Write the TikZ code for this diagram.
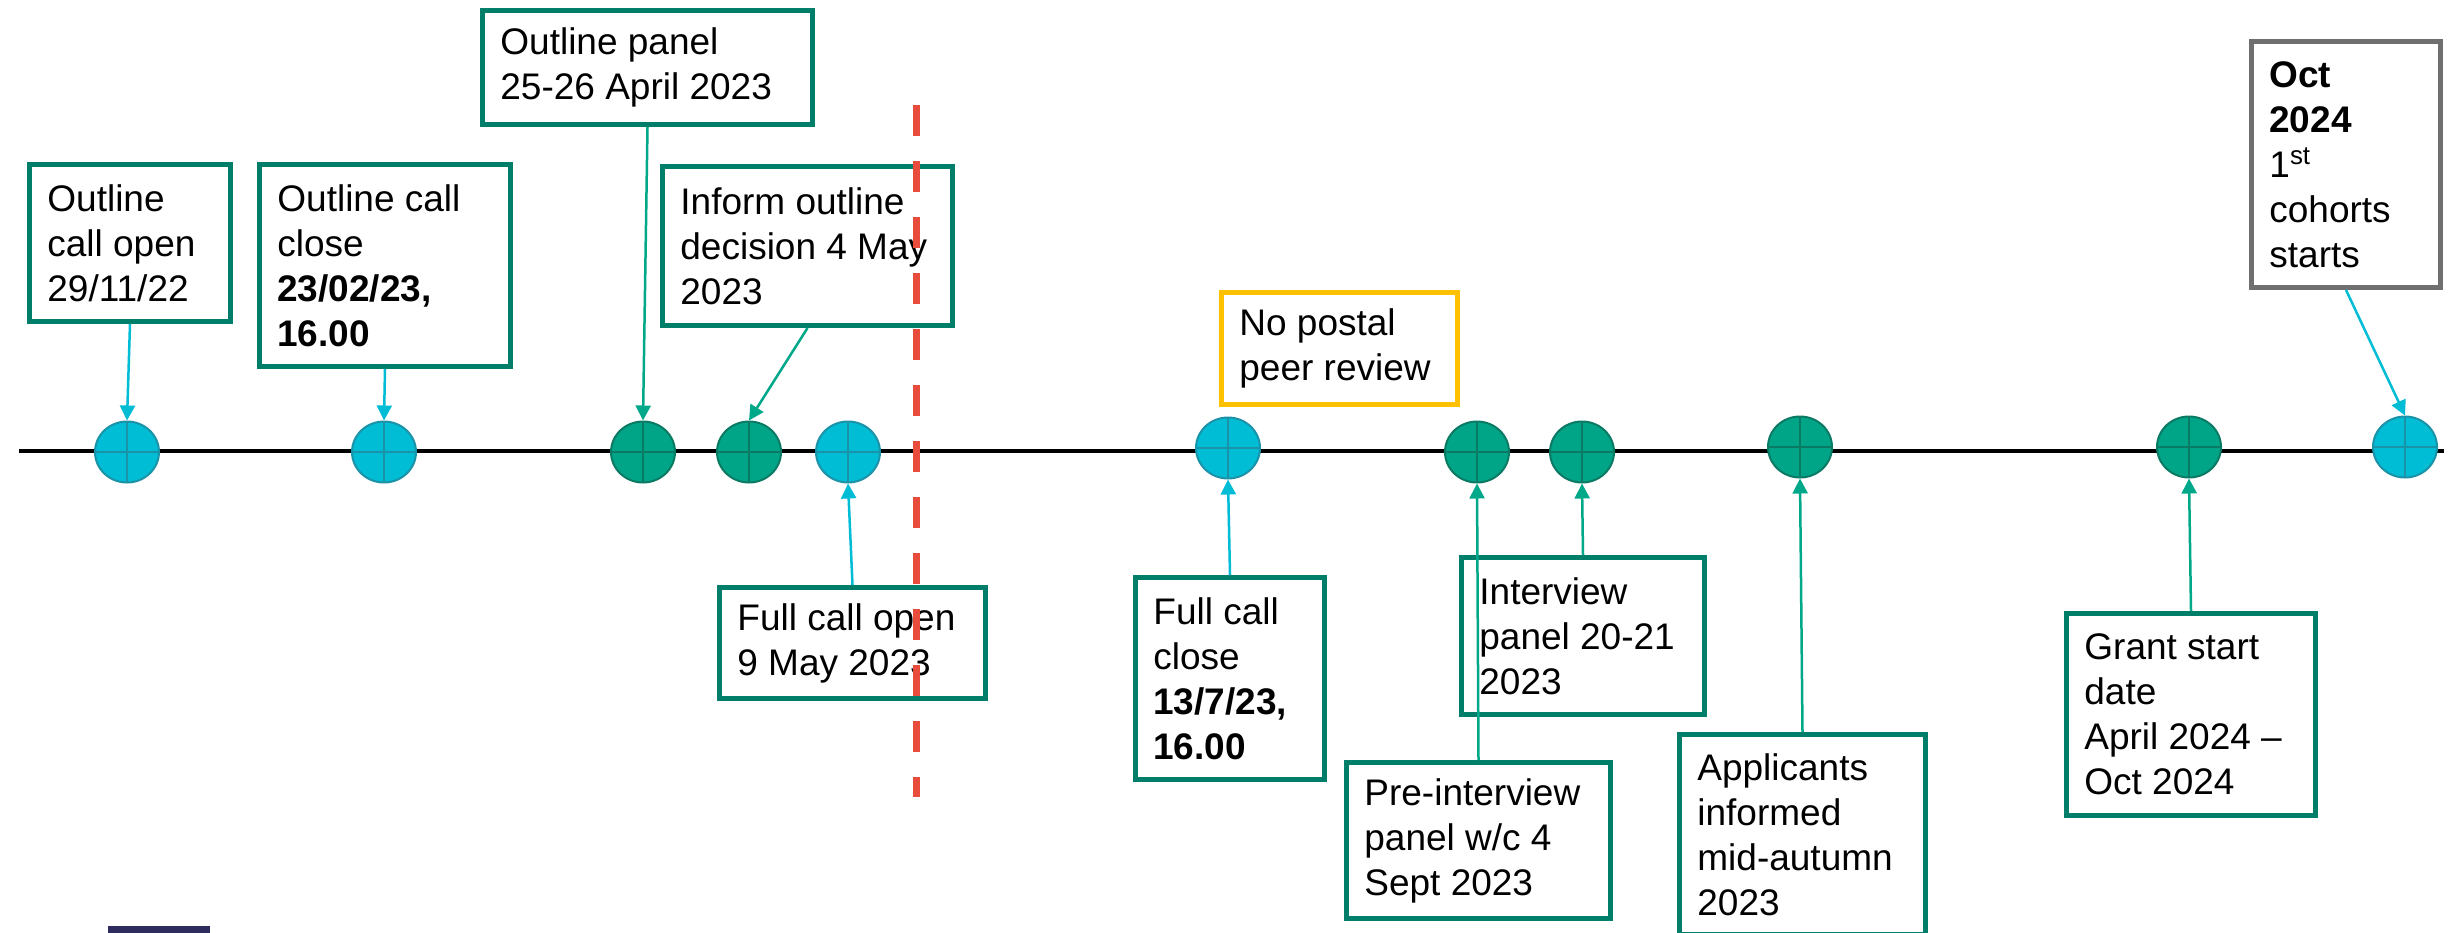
\documentclass[tikz,border=0pt]{standalone}
\usepackage{fontspec}
\setmainfont{Liberation Sans}
\usetikzlibrary{shapes.geometric,arrows.meta}
\definecolor{cfill}{HTML}{00BDD6}
\definecolor{cline}{HTML}{1A93A8}
\definecolor{gfill}{HTML}{00A587}
\definecolor{gline}{HTML}{0B7A64}
\definecolor{boxc}{HTML}{007E69}
\definecolor{carr}{HTML}{00BCD4}
\definecolor{garr}{HTML}{00A88A}
\definecolor{redd}{HTML}{E84C3D}
\definecolor{yel}{HTML}{FFC000}
\definecolor{gry}{HTML}{6F6F6F}
\definecolor{navy}{HTML}{2E2B5F}
\begin{document}
\begin{tikzpicture}[x=0.5pt,y=-0.5pt,
  cross/.style={path picture={\draw[#1,line width=1.4pt] (path picture bounding box.north) -- (path picture bounding box.south) (path picture bounding box.west) -- (path picture bounding box.east);}},
  ev/.style={ellipse, line width=1pt, minimum width=32pt, minimum height=30.5pt, inner sep=0pt},
  cev/.style={ev, draw=cline, fill=cfill, cross=cline},
  gev/.style={ev, draw=gline, fill=gfill, cross=gline},
  box/.style={rectangle, draw=#1, line width=2.5pt, fill=white, anchor=north west, inner sep=0pt},
  box/.default=boxc,
  txt/.style={font=\fontsize{18.5}{22.5}\selectfont, align=left, inner sep=0pt, anchor=west},
  arr/.style={draw=#1, line width=1.25pt, -{Triangle[width=7.5pt,length=7.5pt]}},
  timeline/.style={line width=1.75pt, black},
  reddash/.style={draw=redd, line width=3.5pt, dash pattern=on 15.5pt off 12.5pt}
]
\useasboundingbox (0,0) rectangle (2458,932);
% timeline
\coordinate (tlA) at (19,451);
\coordinate (tlB) at (2444,451);
\draw[timeline] (tlA) -- (tlB);
% events
\node[cev] (c1) at (127,452) {};
\node[cev] (c2) at (384,452) {};
\node[gev] (c3) at (643,452) {};
\node[gev] (c4) at (749,452) {};
\node[cev] (c5) at (848,452) {};
\node[cev] (c6) at (1228,448) {};
\node[gev] (c7) at (1477,452) {};
\node[gev] (c8) at (1582,452) {};
\node[gev] (c9) at (1800,447) {};
\node[gev] (c10) at (2189,447) {};
\node[cev] (c11) at (2405,447) {};
% boxes
\node[box, minimum width=100.5pt, minimum height=78.5pt] (b1) at (27,162) {};
\node[txt] (t1) at ([xshift=10pt]b1.west) {Outline\\call open\\29/11/22};
\node[box, minimum width=125.5pt, minimum height=101pt] (b2) at (257,162) {};
\node[txt] (t2) at ([xshift=10pt]b2.west) {Outline call\\close\\\textbf{23/02/23,}\\\textbf{16.00}};
\node[box, minimum width=165pt, minimum height=57pt] (b3) at (480,8) {};
\node[txt] (t3) at ([xshift=10pt]b3.west) {Outline panel\\25-26 April 2023};
\node[box, minimum width=145pt, minimum height=79.5pt] (b4) at (660,164) {};
\node[txt] (t4) at ([xshift=10pt]b4.west) {Inform outline\\decision 4 May\\2023};
\node[box, minimum width=133pt, minimum height=55.5pt] (b5) at (717,585) {};
\node[txt] (t5) at ([xshift=10pt]b5.west) {Full call open\\9 May 2023};
\node[box=yel, minimum width=118pt, minimum height=56pt] (b6) at (1219,290) {};
\node[txt] (t6) at ([xshift=10pt]b6.west) {No postal\\peer review};
\node[box, minimum width=94.5pt, minimum height=101pt] (b7) at (1133,575) {};
\node[txt] (t7) at ([xshift=10pt]b7.west) {Full call\\close\\\textbf{13/7/23,}\\\textbf{16.00}};
\node[box, minimum width=121.5pt, minimum height=78.5pt] (b8) at (1459,555) {};
\node[txt] (t8) at ([xshift=10pt]b8.west) {Interview\\panel 20-21\\2023};
\node[box, minimum width=132pt, minimum height=78pt] (b9) at (1344,760) {};
\node[txt] (t9) at ([xshift=10pt]b9.west) {Pre-interview\\panel w/c 4\\Sept 2023};
\node[box, minimum width=123pt, minimum height=100pt] (b10) at (1677,732) {};
\node[txt] (t10) at ([xshift=10pt]b10.west) {Applicants\\informed\\mid-autumn\\2023};
\node[box, minimum width=124.5pt, minimum height=101pt] (b11) at (2064,611) {};
\node[txt] (t11) at ([xshift=10pt]b11.west) {Grant start\\date\\April 2024 –\\Oct 2024};
\node[box=gry, minimum width=94.5pt, minimum height=123pt] (b12) at (2249,39) {};
\node[txt] (t12) at ([xshift=10pt]b12.west) {\textbf{Oct}\\\textbf{2024}\\1\smash{\textsuperscript{st}}\\cohorts\\starts};
% connectors
\draw[arr=carr] (b1.south) -- (c1.north);
\draw[arr=carr] (b2.south) -- (c2.north);
\draw[arr=garr] (b3.south) -- (c3.north);
\draw[arr=garr] (b4.south) -- (c4.north);
\draw[arr=carr] (b5.north) -- (c5.south);
\draw[arr=carr] (b7.north) -- (c6.south);
\draw[arr=garr] (b9.north) -- (c7.south);
\draw[arr=garr] (b8.north) -- (c8.south);
\draw[arr=garr] (b10.north) -- (c9.south);
\draw[arr=garr] (b11.north) -- (c10.south);
\draw[arr=carr] (b12.south) -- (c11.north);
% red dashed divider
\coordinate (rdA) at (916,105);
\coordinate (rdB) at (916,797);
\draw[reddash] (rdA) -- (rdB);
% footer mark
\fill[navy] (108,926) rectangle (210,940);
\end{tikzpicture}
\end{document}
